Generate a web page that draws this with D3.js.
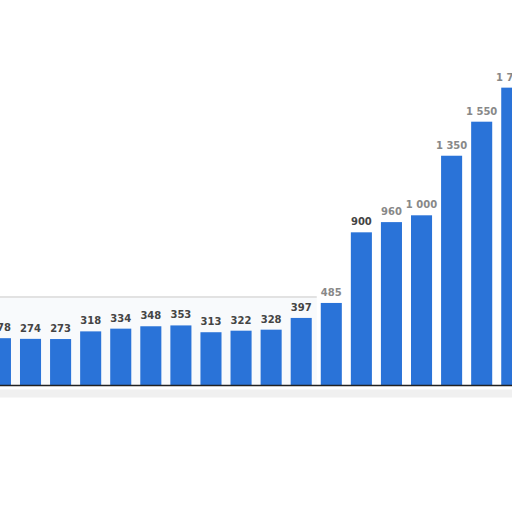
<!DOCTYPE html>
<html>
<head>
<meta charset="utf-8">
<script src="https://cdn.jsdelivr.net/npm/d3@7/dist/d3.min.js"></script>
<style>
html,body{margin:0;padding:0;background:#fff;}
svg{display:block;}
</style>
</head>
<body>
<svg id="chart" width="512" height="512"></svg>
<script>
const categories = ["2004","2005","2006","2007","2008","2009","2010","2011","2012","2013","2014","2015","2016","2017","2018","2019","2020","2021"];
const values = [278, 274, 273, 318, 334, 348, 353, 313, 322, 328, 397, 485, 900, 960, 1000, 1350, 1550, 1750];

const svg = d3.select("#chart");
const baseline = 385.5;
const x = d3.scaleBand().domain(categories).range([-14.6, 526.8]).paddingInner(0.3).paddingOuter(0.15);
const y = d3.scaleLinear().domain([0, 1750]).range([baseline, baseline - 1750 * 0.1702]);

const fmt = v => d3.format(",")(v).replace(/,/g, " ");

// light plot background (left part)
svg.append("rect").attr("x", 0).attr("y", y(520)).attr("width", x("2015") - 4).attr("height", baseline - y(520)).attr("fill", "#f8fafc");
svg.append("line").attr("x1", 0).attr("x2", x("2015") - 4).attr("y1", y(520)).attr("y2", y(520)).attr("stroke", "#e2e2e2").attr("stroke-width", 2);

svg.append("g").selectAll("rect").data(values).join("rect")
  .attr("x", (d, i) => x(categories[i]))
  .attr("y", d => y(d))
  .attr("width", x.bandwidth())
  .attr("height", d => baseline - y(d))
  .attr("fill", "#2a73d8");

svg.append("g").selectAll("text").data(values).join("text")
  .attr("x", (d, i) => x(categories[i]) + x.bandwidth() / 2)
  .attr("y", d => y(d) - 7)
  .attr("text-anchor", "middle")
  .attr("font-family", "'DejaVu Sans', sans-serif")
  .attr("font-weight", "bold")
  .attr("font-size", 10)
  .attr("fill", (d, i) => i >= 11 && i !== 12 ? "#888" : "#444")
  .text(d => fmt(d));

// baseline axis
const xAxis = d3.axisBottom(x).tickSize(0).tickFormat("");
svg.append("g").attr("transform", `translate(0,${baseline})`).call(xAxis)
  .call(g => g.select(".domain").attr("stroke", "#222").attr("stroke-width", 1.3).attr("d", "M0,0H512"));

// soft shadow under axis
svg.append("rect").attr("x", 0).attr("y", baseline + 4).attr("width", 512).attr("height", 8).attr("fill", "#e6e6e6").attr("opacity", 0.6);
</script>
</body>
</html>
